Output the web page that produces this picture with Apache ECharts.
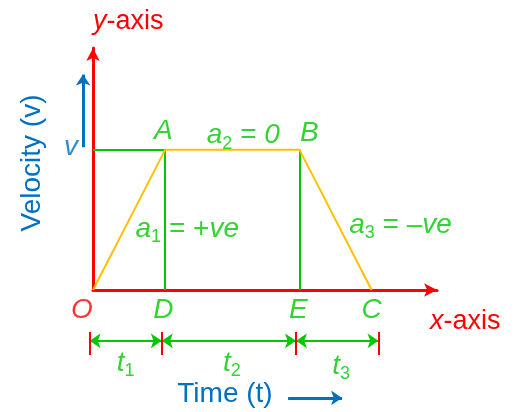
<!DOCTYPE html>
<html>
<head>
<meta charset="utf-8">
<script src="https://cdn.jsdelivr.net/npm/echarts@6/dist/echarts.min.js"></script>
<style>
  html, body { margin: 0; padding: 0; background: #fff; }
  #chart { width: 517px; height: 412px; }
</style>
</head>
<body>
<div id="chart"></div>
<script>
// times of the corner points O, A(D), B(E), C
var times = [0, 2.1, 6.0, 8.1];
var velocity = [0, 5.8, 5.8, 0];
// edges of the t1 / t2 / t3 dimension arrows and their height
var dimEdges = [-0.1, 2.0, 5.9, 8.3];
var dimLevel = -2.1;
var dimTick = [-1.74, -2.69];
var dimNames = ['t1', 't2', 't3'];
// small blue direction arrows
var vArrow = [[-0.29, 5.9], [-0.29, 8.9]];
var tArrow = [[5.67, -4.46], [7.24, -4.46]];

var RED = '#ff0000', GREEN = '#00c800', ORANGE = '#ffc000', BLUE = '#0070c0';
var FONT = 'Liberation Sans';

var chart = echarts.init(document.getElementById('chart'));

var tA = times[1], tB = times[2], tC = times[3], v = velocity[1];

// green guide lines
var guides = [
    [[0, v], [tA, v]],
    [[tA, v], [tA, 0]],
    [[tB, v], [tB, 0]]
];

// dimension arrows and ticks
var dimArrows = [];
for (var i = 0; i < dimEdges.length - 1; i++) {
    dimArrows.push({coords: [[dimEdges[i], dimLevel], [dimEdges[i + 1], dimLevel]]});
}
var dimTicks = dimEdges.map(function (x) {
    return {coords: [[x, dimTick[0]], [x, dimTick[1]]]};
});

var rich = {
    i: {fontStyle: 'italic', fontSize: 28, fontFamily: FONT, lineHeight: 34},
    n: {fontSize: 28, fontFamily: FONT, lineHeight: 34},
    s: {fontSize: 18, fontFamily: FONT, lineHeight: 12, verticalAlign: 'bottom'}
};

function lab(pos, text, color, off) {
    return {
        value: pos,
        label: {formatter: text, color: color, offset: off}
    };
}

var labels = [
    lab([0, 0], '{i|O}', RED, [-11, 20]),
    lab([tA, 0], '{i|D}', GREEN, [-2, 20]),
    lab([tB, 0], '{i|E}', GREEN, [-1, 20]),
    lab([tC, 0], '{i|C}', GREEN, [0, 20]),
    lab([tA, v], '{i|A}', GREEN, [-2, -18]),
    lab([tB, v], '{i|B}', GREEN, [10, -16]),
    lab([(tA + tB) / 2, v], '{i|a}{s|2}{n| = }{i|0}', GREEN, [11, -14]),
    lab([tA, v / 2], '{i|a}{s|1}{n| = +}{i|ve}', GREEN, [22, 9]),
    lab([(tB + tC) / 2, v / 2], '{i|a}{s|3}{n| = \u2013}{i|ve}', GREEN, [65, 5]),
    lab([0, v], '{i|v}', BLUE, [-22, -2]),
    lab([(dimEdges[0] + dimEdges[1]) / 2, dimLevel], '{i|t}{s|1}', GREEN, [0, 22]),
    lab([(dimEdges[1] + dimEdges[2]) / 2, dimLevel], '{i|t}{s|2}', GREEN, [3, 22]),
    lab([(dimEdges[2] + dimEdges[3]) / 2, dimLevel], '{i|t}{s|3}', GREEN, [4, 25])
];

var hidden = {
    splitLine: {show: false},
    axisTick: {show: false},
    axisLabel: {show: false}
};

var option = {
    animation: false,
    grid: {left: 93, right: 80, top: 48, bottom: 122},
    xAxis: Object.assign({
        type: 'value', min: 0, max: 10,
        name: '{i|x}-axis',
        nameLocation: 'end',
        nameGap: -7,
        nameTextStyle: {
            color: RED, fontSize: 27, fontFamily: FONT,
            align: 'left', verticalAlign: 'top', padding: [18, 0, 0, 0],
            rich: {i: {fontStyle: 'italic', fontSize: 27, fontFamily: FONT, color: RED}}
        },
        axisLine: {
            onZero: false,
            symbol: ['none', 'arrow'], symbolSize: [10, 13],
            lineStyle: {color: RED, width: 3}
        }
    }, hidden),
    yAxis: Object.assign({
        type: 'value', min: 0, max: 10,
        name: '{i|y}-axis',
        nameLocation: 'end',
        nameGap: 13,
        nameTextStyle: {
            color: RED, fontSize: 27, fontFamily: FONT, align: 'left',
            rich: {i: {fontStyle: 'italic', fontSize: 27, fontFamily: FONT, color: RED}}
        },
        axisLine: {
            onZero: false,
            symbol: ['none', 'arrow'], symbolSize: [10, 13],
            lineStyle: {color: RED, width: 3}
        }
    }, hidden),
    graphic: [
        {
            type: 'text', x: 32, y: 163, rotation: Math.PI / 2,
            style: {text: 'Velocity (v)', fill: BLUE, fontSize: 28, fontFamily: FONT,
                align: 'center', verticalAlign: 'middle'}
        },
        {
            type: 'text', x: 225, y: 394,
            style: {text: 'Time (t)', fill: BLUE, fontSize: 28, fontFamily: FONT,
                align: 'center', verticalAlign: 'middle'}
        }
    ],
    series: [
        {
            type: 'lines', coordinateSystem: 'cartesian2d', clip: false,
            lineStyle: {color: GREEN, width: 2, opacity: 1},
            data: guides.map(function (c) { return {coords: c}; }),
            z: 2
        },
        {
            type: 'line', data: times.map(function (t, i) { return [t, velocity[i]]; }),
            symbol: 'none', lineStyle: {color: ORANGE, width: 2}, z: 3
        },
        {
            type: 'lines', coordinateSystem: 'cartesian2d', clip: false,
            symbol: ['arrow', 'arrow'], symbolSize: 11,
            lineStyle: {color: GREEN, width: 2, opacity: 1},
            data: dimArrows
        },
        {
            type: 'lines', coordinateSystem: 'cartesian2d', clip: false,
            lineStyle: {color: RED, width: 2, opacity: 1},
            data: dimTicks
        },
        {
            type: 'lines', coordinateSystem: 'cartesian2d', clip: false,
            symbol: ['none', 'arrow'], symbolSize: 11,
            lineStyle: {color: BLUE, width: 3, opacity: 1},
            data: [{coords: vArrow}, {coords: tArrow}]
        },
        {
            type: 'scatter', clip: false, symbolSize: 0,
            label: {show: true, position: 'inside', rich: rich},
            data: labels, z: 5
        }
    ]
};

chart.setOption(option);
</script>
</body>
</html>
